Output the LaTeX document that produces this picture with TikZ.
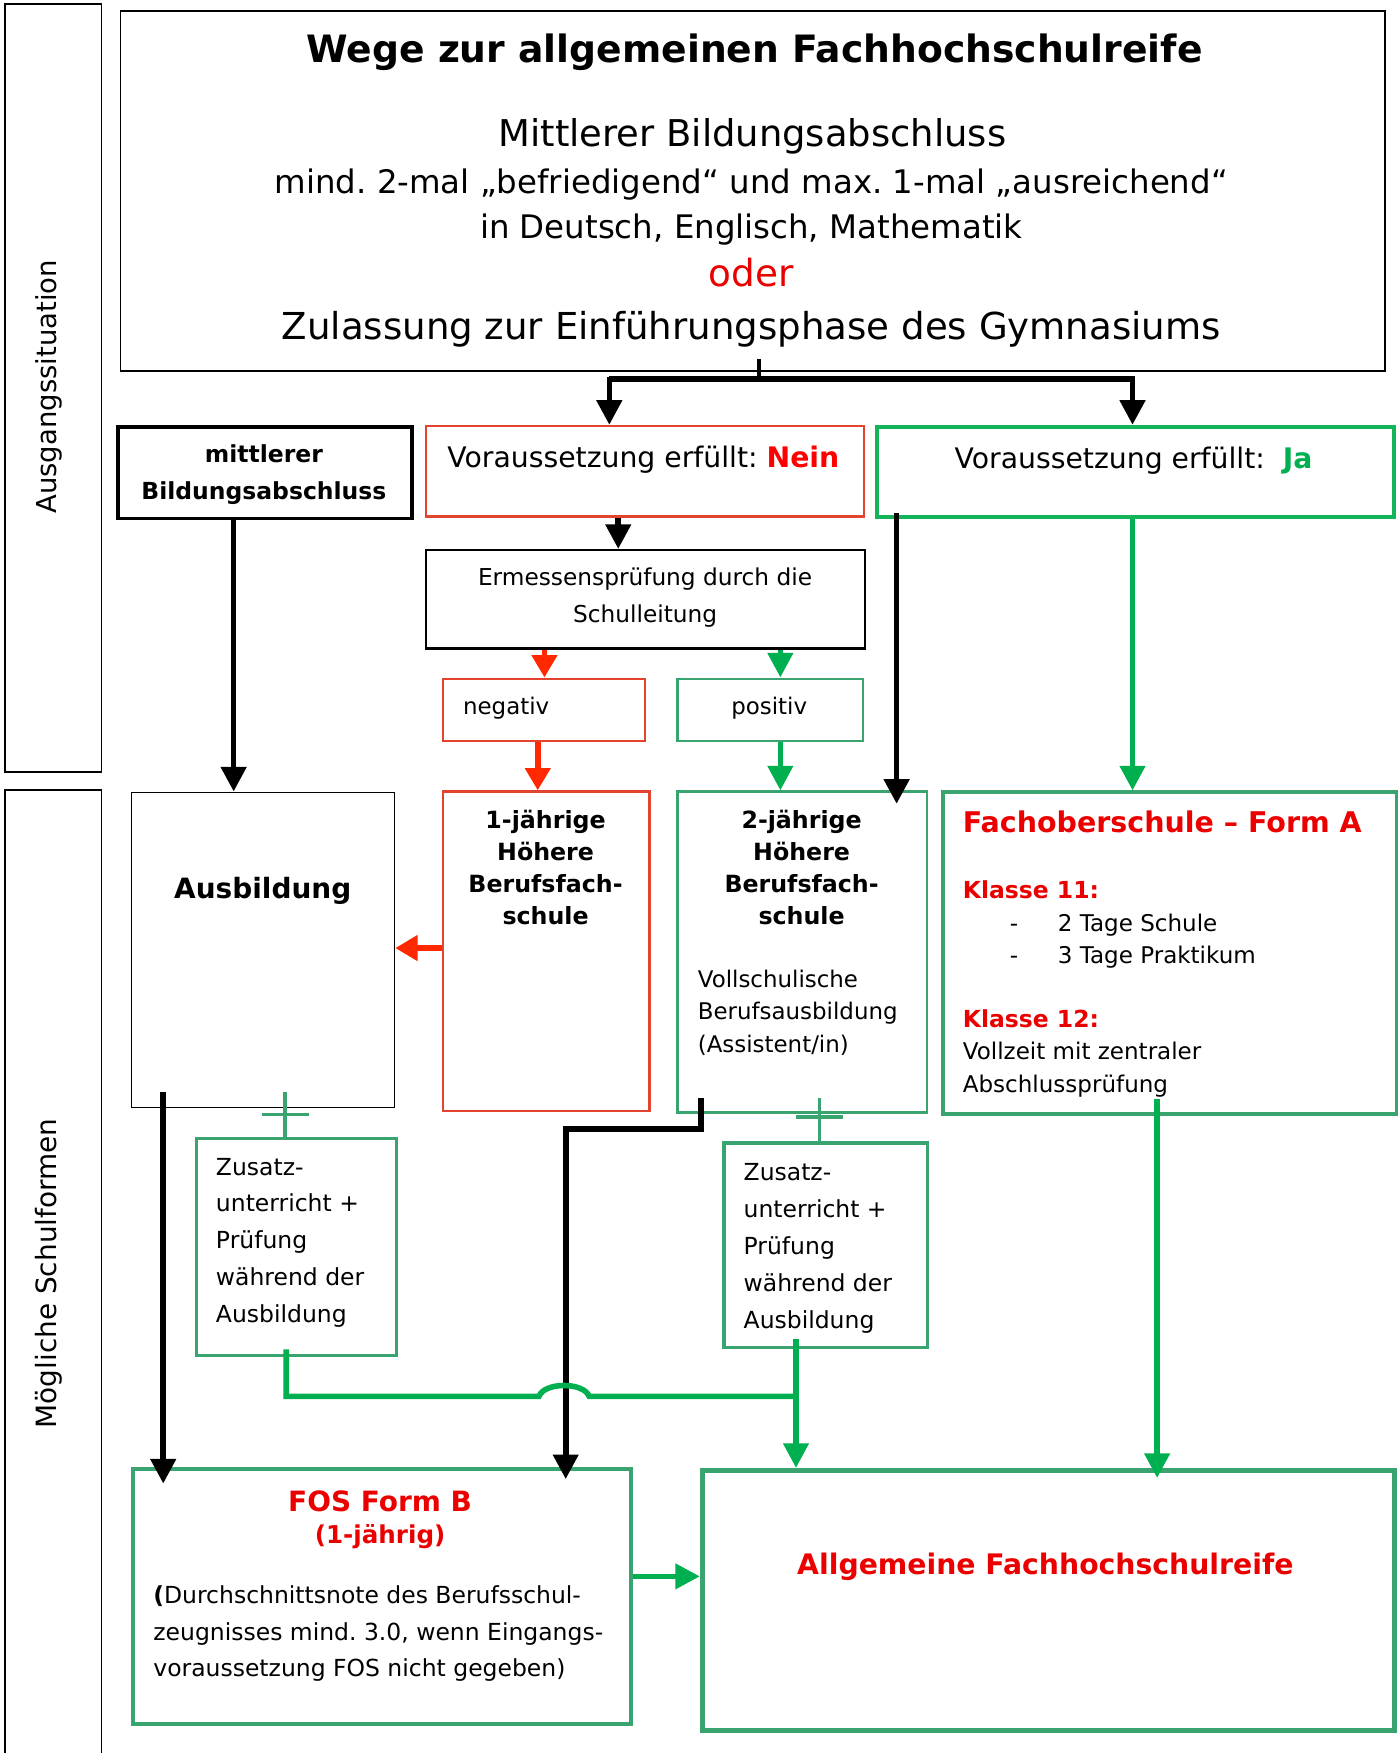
\documentclass[tikz,border=0pt]{standalone}
\usepackage{fontspec}
\setmainfont{DejaVu Sans}
\usetikzlibrary{arrows.meta}
\definecolor{tred}{RGB}{235,0,0}
\definecolor{lred}{RGB}{226,68,48}
\definecolor{ared}{RGB}{255,40,0}
\definecolor{gline}{RGB}{0,176,80}
\definecolor{gbox}{RGB}{58,164,112}
\definecolor{gbright}{RGB}{20,180,90}
\newcommand\myfs[2]{\fontsize{#1}{#2}\selectfont}
\frenchspacing
\begin{document}
\begin{tikzpicture}[x=1pt,y=-1pt,
  bx/.style={draw, rectangle, inner sep=0pt, anchor=north west},
  txt/.style={inner sep=0pt, anchor=base},
  txtl/.style={inner sep=0pt, anchor=base west, align=left},
  barr/.style={draw=black, line width=5pt, -{Triangle[width=22pt,length=22pt]}},
  rarr/.style={draw=ared, line width=5pt, -{Triangle[width=22pt,length=20pt]}},
  garr/.style={draw=gline, line width=5pt, -{Triangle[width=22pt,length=22pt]}},
  gln/.style={draw=gline, line width=5pt},
  plusln/.style={draw=gbox, line width=3pt}
]
\useasboundingbox (0,0) rectangle (1250,1568);

% side boxes
\node[bx, line width=1.5pt, minimum width=86pt, minimum height=687pt] (ausg) at (4,3) {};
\node[bx, line width=1.5pt, minimum width=86pt, minimum height=900pt] (moeg) at (4,706) {};
\node[inner sep=0pt, rotate=90, font=\myfs{24.6}{28}] (ausgT) at (44,346) {Ausgangssituation};
\node[inner sep=0pt, rotate=90, font=\myfs{25}{28}] (moegT) at (44,1139) {Mögliche Schulformen};

% top box
\node[bx, line width=1.5pt, minimum width=1131pt, minimum height=322pt] (top) at (107,9) {};
\node[txt, font=\bfseries\myfs{33.7}{40}] (t1) at (675,56) {Wege zur allgemeinen Fachhochschulreife};
\node[txt, font=\myfs{33}{40}] (t2) at (673,131) {Mittlerer Bildungsabschluss};
\node[txt, font=\myfs{29}{35}] (t3) at (672,173) {mind. 2-mal „befriedigend“ und max. 1-mal „ausreichend“};
\node[txt, font=\myfs{29}{35}] (t4) at (672,213) {in Deutsch, Englisch, Mathematik};
\node[txt, font=\myfs{33.4}{40}, text=tred] (t5) at (672,256) {oder};
\node[txt, font=\myfs{33.2}{40}] (t6) at (672,304) {Zulassung zur Einführungsphase des Gymnasiums};

% second row
\node[bx, line width=3.5pt, minimum width=263pt, minimum height=82pt] (bild) at (104,380) {};
\node[txt, align=center, font=\bfseries\myfs{21}{33}] (bildT) at (236,447) {mittlerer\\Bildungsabschluss};
\node[bx, draw=lred, line width=2pt, minimum width=392pt, minimum height=81pt] (nein) at (380,380) {};
\node[txtl, font=\myfs{25.3}{30}] (neinT) at (400,418) {Voraussetzung erfüllt: \textbf{\color{red}Nein}};
\node[bx, draw=gbright, line width=3.5pt, minimum width=462pt, minimum height=81pt] (ja) at (783,380) {};
\node[txt, font=\myfs{25.3}{30}] (jaT) at (1014,419) {Voraussetzung erfüllt:\ \ \textbf{\color{gline}Ja}};

\node[bx, line width=2pt, minimum width=393pt, minimum height=88pt] (erm) at (380,491) {};
\node[txt, align=center, font=\myfs{20.8}{33}] (ermT) at (577,557) {Ermessensprüfung durch die\\Schulleitung};

\node[bx, draw=lred, line width=2pt, minimum width=181pt, minimum height=56pt] (neg) at (395,606) {};
\node[txtl, font=\myfs{20.5}{25}] (negT) at (414,639) {negativ};
\node[bx, draw=gbox, line width=2pt, minimum width=166pt, minimum height=56pt] (pos) at (605,606) {};
\node[txt, font=\myfs{20.5}{25}] (posT) at (688,639) {positiv};

% third row
\node[bx, line width=1.5pt, minimum width=235pt, minimum height=282pt] (ausb) at (117,708) {};
\node[txt, font=\bfseries\myfs{25}{30}] (ausbT) at (235,804) {Ausbildung};
\node[bx, draw=lred, line width=2pt, minimum width=185pt, minimum height=286pt] (ein) at (395,707) {};
\node[txt, align=center, font=\bfseries\myfs{21.2}{28.7}] (einT) at (488,827) {1-jährige\\Höhere\\Berufsfach-\\schule};
\node[bx, draw=gbox, line width=2pt, minimum width=223pt, minimum height=287pt] (zwei) at (605,707) {};
\node[txt, align=center, font=\bfseries\myfs{21.2}{28.7}] (zweiT) at (717,827) {2-jährige\\Höhere\\Berufsfach-\\schule};
\node[txtl, font=\myfs{20.5}{28.7}] (zweiB) at (624,941) {Vollschulische\\Berufsausbildung\\(Assistent/in)};
\node[bx, draw=gbox, line width=3.5pt, minimum width=406pt, minimum height=288pt] (fosa) at (842,707) {};
\node[txtl, font=\bfseries\myfs{25.5}{30}, text=tred] (fosaT) at (861,745) {Fachoberschule – Form A};
\node[txtl, font=\bfseries\myfs{21}{29}, text=tred] (k11) at (861,804) {Klasse 11:};
\node[txtl, font=\myfs{20.6}{29}] (d1) at (903,862) {-\\-};
\node[txtl, font=\myfs{20.6}{29}] (k11a) at (946,862) {2 Tage Schule\\3 Tage Praktikum};
\node[txtl, font=\bfseries\myfs{21}{29}, text=tred] (k12) at (861,919) {Klasse 12:};
\node[txtl, font=\myfs{20.6}{29}] (k12a) at (861,977) {Vollzeit mit zentraler\\Abschlussprüfung};

% Zusatz boxes
\node[bx, draw=gbox, line width=3pt, minimum width=179pt, minimum height=194pt] (zus1) at (174,1017) {};
\node[txtl, font=\myfs{21}{33}] (zus1T) at (193,1183) {Zusatz-\\unterricht +\\Prüfung\\während der\\Ausbildung};
\node[bx, draw=gbox, line width=3pt, minimum width=182pt, minimum height=183pt] (zus2) at (646,1021) {};
\node[txtl, font=\myfs{21}{33}] (zus2T) at (665,1188) {Zusatz-\\unterricht +\\Prüfung\\während der\\Ausbildung};

% bottom boxes
\node[bx, draw=gbox, line width=3.5pt, minimum width=446pt, minimum height=228pt] (fosb) at (117,1312) {};
\node[txt, font=\bfseries\myfs{25}{30}, text=tred] (fosbT) at (340,1352) {FOS Form B};
\node[txt, font=\bfseries\myfs{22}{26}, text=tred] (fosbJ) at (340,1381) {(1-jährig)};
\node[txtl, font=\myfs{21}{33}] (fosbB) at (137,1500) {\textbf{(}Durchschnittsnote des Berufsschul-\\zeugnisses mind. 3.0, wenn Eingangs-\\voraussetzung FOS nicht gegeben)};
\node[bx, draw=gbox, line width=4.5pt, minimum width=619pt, minimum height=233pt] (ahr) at (626,1313) {};
\node[txt, font=\bfseries\myfs{25.3}{30}, text=tred] (ahrT) at (935,1408) {Allgemeine Fachhochschulreife};

% connectors: top
\coordinate (topstem) at (679,321);
\coordinate (split) at (679,339);
\draw[line width=3pt] (topstem) -- (split);
\draw[line width=5pt] (545,339) -- (1015,339);
\draw[barr] (545,337) -- (nein.north -| 545,0);
\draw[barr] (1013,337) -- (ja.north -| 1013,0);

\draw[barr] (bild.south -| 209,0) -- (ausb.north -| 209,0);
\draw[barr] (nein.south -| 553,0) -- (erm.north -| 553,0);
\draw[rarr] (erm.south -| 487,0) -- (neg.north -| 487,0);
\draw[garr] (erm.south -| 698,0) -- (pos.north -| 698,0);
\draw[rarr] (neg.south -| 481,0) -- (ein.north -| 481,0);
\draw[garr] (pos.south -| 698,0) -- (zwei.north -| 698,0);

\coordinate (jaBlack) at (802,459);
\coordinate (jaBlackEnd) at (802,719);
\draw[barr] (jaBlack) -- (jaBlackEnd);
\draw[garr] (ja.south -| 1013,0) -- (fosa.north -| 1013,0);

\draw[rarr] (ein.west |- 0,848) -- (ausb.east |- 0,848);

% plus connectors
\coordinate (p1a) at (255,977);
\draw[plusln] (p1a) -- (zus1.north -| 255,0);
\draw[plusln] (234,997) -- (276,997);
\coordinate (p2a) at (733,982);
\draw[plusln] (p2a) -- (zus2.north -| 733,0);
\draw[plusln] (712,999) -- (754,999);

% black lines to FOS B
\coordinate (ausbOut) at (146,977);
\coordinate (fosbIn1) at (146,1327);
\draw[barr] (ausbOut) -- (fosbIn1);
\coordinate (zweiOut) at (627,982);
\coordinate (fosbIn2) at (506,1323);
\draw[barr, line join=miter] (zweiOut) -- (627,1010) -- (506,1010) -- (fosbIn2);

% green lines to AHR
\coordinate (z1Out) at (256,1207);
\coordinate (z2Out) at (712,1198);
\draw[gln, line join=miter] (z1Out) -- (256,1249) -- (482,1249) .. controls (487,1236) and (522,1236) .. (527,1249) -- (712,1249);
\draw[garr] (z2Out) -- (ahr.north -| 712,0);
\coordinate (faOut) at (1035,983);
\coordinate (ahrIn) at (1035,1322);
\draw[garr] (faOut) -- (ahrIn);
\draw[garr] (fosb.east |- 0,1410) -- (ahr.west |- 0,1410);
\end{tikzpicture}
\end{document}
